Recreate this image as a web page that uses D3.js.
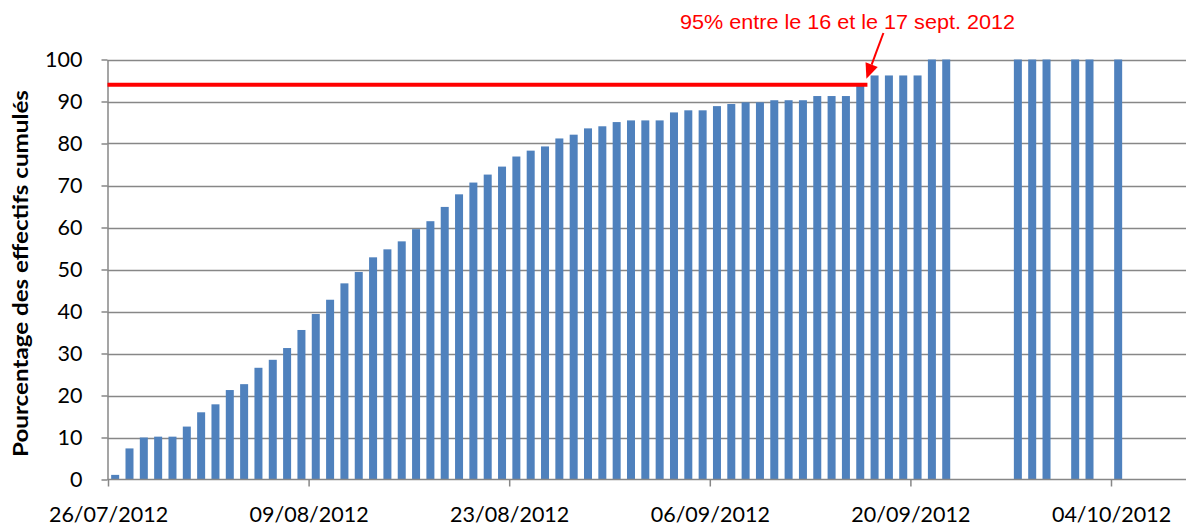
<!DOCTYPE html>
<html>
<head>
<meta charset="utf-8">
<script src="https://cdn.jsdelivr.net/npm/d3@7"></script>
<style>
  html, body { margin: 0; padding: 0; background: #fff; }
  svg { display: block; }
</style>
</head>
<body>
<svg id="chart" width="1187" height="526"></svg>
<script>
// ---- data ----
const dates = [
  "26/07/2012","27/07/2012","28/07/2012","29/07/2012","30/07/2012","31/07/2012",
  "01/08/2012","02/08/2012","03/08/2012","04/08/2012","05/08/2012","06/08/2012",
  "07/08/2012","08/08/2012","09/08/2012","10/08/2012","11/08/2012","12/08/2012",
  "13/08/2012","14/08/2012","15/08/2012","16/08/2012","17/08/2012","18/08/2012",
  "19/08/2012","20/08/2012","21/08/2012","22/08/2012","23/08/2012","24/08/2012",
  "25/08/2012","26/08/2012","27/08/2012","28/08/2012","29/08/2012","30/08/2012",
  "31/08/2012","01/09/2012","02/09/2012","03/09/2012","04/09/2012","05/09/2012",
  "06/09/2012","07/09/2012","08/09/2012","09/09/2012","10/09/2012","11/09/2012",
  "12/09/2012","13/09/2012","14/09/2012","15/09/2012","16/09/2012","17/09/2012",
  "18/09/2012","19/09/2012","20/09/2012","21/09/2012","22/09/2012",
  "27/09/2012","28/09/2012","29/09/2012","01/10/2012","02/10/2012","04/10/2012"
];
const values = [
  1.1, 7.4, 10.0, 10.2, 10.2, 12.6,
  16.0, 17.9, 21.3, 22.7, 26.6, 28.5,
  31.3, 35.6, 39.4, 42.8, 46.7, 49.4,
  52.9, 54.8, 56.7, 59.6, 61.5, 64.9,
  67.9, 70.7, 72.6, 74.5, 76.9, 78.3,
  79.3, 81.2, 82.1, 83.6, 84.1, 85.1,
  85.5, 85.5, 85.5, 87.4, 87.9, 87.9,
  88.9, 89.4, 89.8, 89.8, 90.3, 90.3,
  90.3, 91.3, 91.3, 91.3, 93.8, 96.2,
  96.2, 96.2, 96.2, 100, 100,
  100, 100, 100, 100, 100, 100
];
const xTickLabels = ["26/07/2012","09/08/2012","23/08/2012","06/09/2012","20/09/2012","04/10/2012"];
const yTicks = [0,10,20,30,40,50,60,70,80,90,100];
const thresholdValue = 94;           // red reference line
const thresholdEndDate = "17/09/2012";
const annotationText = "95% entre le 16 et le 17 sept. 2012";
const yLabel = "Pourcentage des effectifs cumulés";

// ---- layout ----
const parse = d3.utcParse("%d/%m/%Y");
const fmt = d3.utcFormat("%d/%m/%Y");
const plotLeft = 107.5, plotRight = 1186, plotTop = 59.5, plotBottom = 479.5;

const svg = d3.select("#chart");

const x = d3.scaleUtc()
  .domain([parse(xTickLabels[0]), parse(xTickLabels[xTickLabels.length - 1])])
  .range([108, 1111]);
const y = d3.scaleLinear().domain([0, 100]).range([plotBottom, plotTop]);

const dayW = x(d3.utcDay.offset(parse(dates[0]), 1)) - x(parse(dates[0]));
const barW = 8;

const gridColor = "#878787";
const axisFont = "Lato, 'Open Sans', sans-serif";

// gridlines
svg.append("g").selectAll("line").data(yTicks.filter(d => d > 0)).join("line")
  .attr("x1", plotLeft).attr("x2", plotRight)
  .attr("y1", d => Math.round(y(d)) + 0.5).attr("y2", d => Math.round(y(d)) + 0.5)
  .attr("stroke", gridColor).attr("stroke-width", 1.5);

// bars
const data = dates.map((d, i) => ({ date: parse(d), value: values[i] }));
svg.append("g").selectAll("rect").data(data).join("rect")
  .attr("x", d => x(d.date) + dayW / 2 - barW / 2)
  .attr("width", barW)
  .attr("y", d => y(d.value))
  .attr("height", d => plotBottom - y(d.value))
  .attr("fill", "#4f81bd");

// y axis
const yAxis = d3.axisLeft(y).tickValues(yTicks).tickSize(6).tickPadding(19).tickSizeOuter(0);
const gy = svg.append("g").attr("transform", `translate(${plotLeft},0)`).call(yAxis);
gy.select(".domain").attr("stroke", gridColor).attr("stroke-width", 1.5);
gy.selectAll(".tick line").attr("stroke", gridColor).attr("stroke-width", 1.5);
gy.selectAll(".tick text").attr("font-family", axisFont).attr("font-size", 21.5).attr("fill", "#000");

// x axis
const xAxis = d3.axisBottom(x).tickValues(xTickLabels.map(parse)).tickFormat(fmt)
  .tickSize(7).tickPadding(20).tickSizeOuter(0);
const gx = svg.append("g").attr("transform", `translate(0,${plotBottom})`).call(xAxis);
gx.select(".domain").remove();
gx.append("line").attr("x1", plotLeft).attr("x2", plotRight).attr("y1", 0).attr("y2", 0)
  .attr("stroke", gridColor).attr("stroke-width", 1.5);
gx.selectAll(".tick line").attr("stroke", gridColor).attr("stroke-width", 1.5);
gx.selectAll(".tick text").attr("font-family", axisFont).attr("font-size", 21.5).attr("fill", "#000");

// y label
svg.append("text")
  .attr("transform", `translate(28,273.5) rotate(-90)`)
  .attr("text-anchor", "middle")
  .attr("font-family", axisFont).attr("font-weight", "bold").attr("font-size", 21)
  .attr("textLength", 367).attr("lengthAdjust", "spacingAndGlyphs")
  .text(yLabel);

// red threshold line
const lineEnd = x(parse(thresholdEndDate));
svg.append("line")
  .attr("x1", plotLeft).attr("x2", lineEnd)
  .attr("y1", y(thresholdValue)).attr("y2", y(thresholdValue))
  .attr("stroke", "#ff0000").attr("stroke-width", 4);

// annotation arrow
const tipX = lineEnd - 1, tipY = y(thresholdValue) - 6;
const startX = tipX + 17, startY = 33;
const ang = Math.atan2(tipY - startY, tipX - startX);
const headLen = 15, headHalf = 6.5;
const bx = tipX - headLen * Math.cos(ang), by = tipY - headLen * Math.sin(ang);
svg.append("line")
  .attr("x1", startX).attr("y1", startY).attr("x2", bx).attr("y2", by)
  .attr("stroke", "#ff0000").attr("stroke-width", 2);
svg.append("path")
  .attr("d", `M${tipX},${tipY} L${bx + headHalf * Math.sin(ang)},${by - headHalf * Math.cos(ang)} L${bx - headHalf * Math.sin(ang)},${by + headHalf * Math.cos(ang)} Z`)
  .attr("fill", "#ff0000");

svg.append("text")
  .attr("x", 680).attr("y", 29)
  .attr("font-family", "'Liberation Sans', Arial, sans-serif").attr("font-size", 21)
  .attr("textLength", 335).attr("lengthAdjust", "spacingAndGlyphs")
  .attr("fill", "#ff0000")
  .text(annotationText);
</script>
</body>
</html>
